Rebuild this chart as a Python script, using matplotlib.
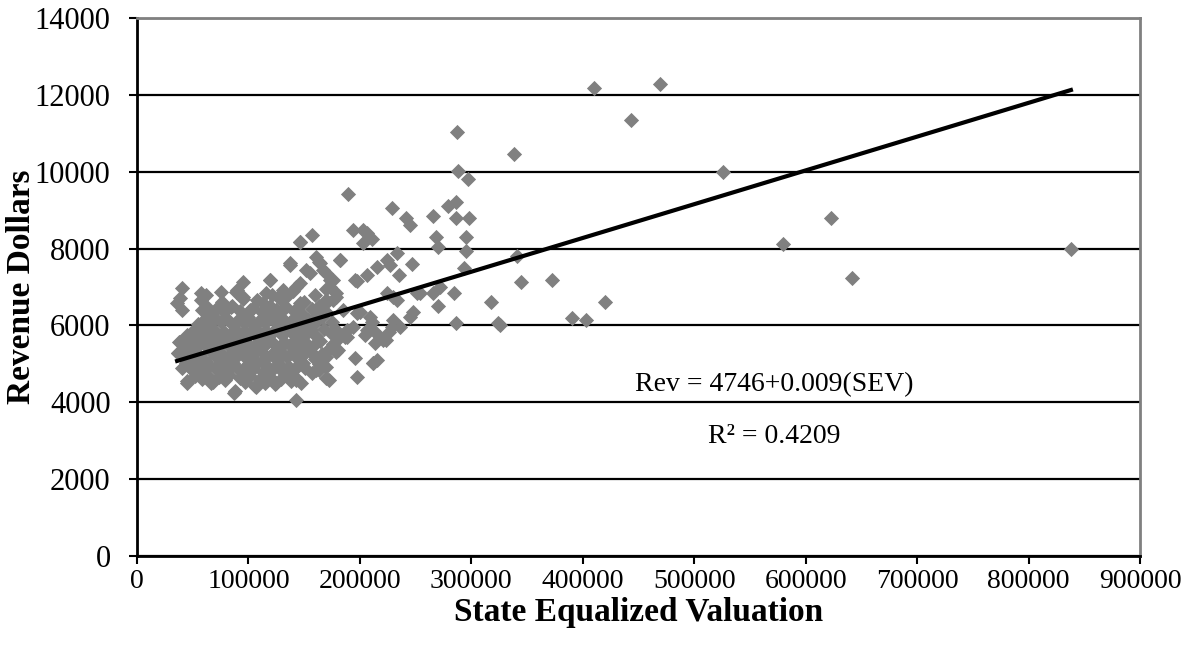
import numpy as np
import matplotlib.pyplot as plt

plt.rcParams['font.family'] = ['Liberation Serif', 'DejaVu Serif']

# --- data (SEV in thousands, revenue in dollars) ---
# dense cluster of districts
cluster_sev = [
    45, 52, 58, 63, 68, 74, 79, 83, 88, 92, 97, 101, 106, 110, 115, 119, 124, 129, 134, 138, 143, 147,
    40, 44, 49, 55, 60, 64, 70, 75, 81, 86, 90, 95, 99, 104, 108, 113, 117, 122, 127, 131, 136, 141, 146, 151, 157, 163,
    37, 42, 47, 51, 56, 61, 66, 71, 76, 80, 85, 89, 94, 98, 103, 107, 112, 116, 121, 126, 130, 135, 140, 144, 149, 155, 160, 166, 170,
    38, 43, 48, 53, 57, 62, 67, 72, 77, 82, 87, 91, 96, 100, 105, 109, 114, 118, 123, 128, 132, 137, 142, 146, 152, 158, 164, 172, 176,
    45, 50, 54, 59, 63, 69, 73, 78, 84, 88, 93, 97, 102, 106, 111, 116, 120, 125, 130, 134, 139, 145, 150, 156, 161, 168, 174, 181,
    55, 60, 65, 70, 75, 81, 86, 91, 96, 100, 105, 110, 115, 120, 126, 131, 137, 142, 148, 153, 160, 166, 175,
    58, 64, 72, 78, 85, 92, 99, 104, 112, 119, 127, 134, 141, 148, 157, 163, 170,
    57, 62, 76, 89, 95, 108, 121, 128, 140, 150, 160, 170, 176,
]
cluster_rev = [
    4550, 4680, 4600, 4720, 4520, 4650, 4580, 4700, 4300, 4620, 4540, 4690, 4430, 4600, 4510, 4660, 4480, 4600, 4720, 4560, 4640, 4500,
    4900, 5020, 4850, 4950, 4810, 5000, 4880, 4960, 4820, 5010, 4900, 4780, 4980, 4870, 5030, 4800, 4940, 4860, 5000, 4790, 4920, 4850, 5010, 4890, 4760, 4990,
    5270, 5150, 5300, 5120, 5230, 5080, 5310, 5170, 5250, 5100, 5290, 5180, 5320, 5140, 5240, 5080, 5300, 5160, 5250, 5110, 5280, 5190, 5320, 5150, 5240, 5330, 5120, 5260, 5180,
    5580, 5450, 5520, 5400, 5600, 5470, 5550, 5420, 5620, 5480, 5560, 5410, 5600, 5500, 5430, 5580, 5460, 5620, 5510, 5400, 5570, 5480, 5610, 5420, 5530, 5470, 5600, 5380, 5520,
    5750, 5850, 5700, 5900, 5780, 5880, 5720, 5830, 5760, 5920, 5700, 5860, 5790, 5940, 5720, 5850, 5780, 5900, 5740, 5860, 5800, 5930, 5760, 5880, 5720, 5900, 5800, 5750,
    6050, 6150, 6000, 6200, 6080, 6180, 6020, 6130, 6060, 6210, 6000, 6140, 6070, 6230, 6030, 6160, 6090, 6200, 6010, 6150, 6060, 6220, 6100,
    6400, 6320, 6460, 6350, 6500, 6380, 6300, 6450, 6360, 6500, 6330, 6470, 6380, 6300, 6420, 6500, 6350,
    6650, 6780, 6600, 6880, 6700, 6650, 6800, 6700, 6900, 6620, 6780, 6950, 6650,
]

# cluster edge points
edge_sev = [40, 36, 40, 39, 57, 75, 95, 90, 119, 137, 146, 157, 163, 182, 131, 143, 152, 167, 173,
            179, 170, 179, 187, 180, 170, 172, 143, 87, 45, 39, 37, 107, 125, 143, 66, 149, 161, 163,
            157, 149, 125, 113, 101, 84, 78, 63, 116, 95]
edge_rev = [6965, 6575, 6401, 6705, 6835, 6878, 7138, 6920, 7182, 7616, 8179, 8353, 7659, 7702, 6878, 7008, 7442, 7442, 7182,
            6835, 6661, 5881, 5707, 5360, 4927, 4580, 4059, 4233, 4493, 5577, 5274, 4406, 4493, 4580, 4493, 5014, 5187, 4840,
            6141, 5707, 6401, 6575, 6401, 6488, 6401, 6488, 6835, 6748]

# mid-range districts
mid_sev = [287, 288, 297, 189, 229, 241, 245, 266, 279, 286, 286, 298, 203, 206, 194, 211, 203, 146, 268, 270,
           295, 295, 182, 137, 233, 224, 227, 247, 215, 206, 235, 197, 293, 318, 266, 270, 284, 248, 286, 324,
           254, 230, 224, 211, 206, 229, 226, 179, 188, 196, 212, 215, 197, 170, 221, 205, 194, 182, 179, 214,
           223, 230, 212, 161, 196, 170, 176, 155, 146, 131, 119, 179, 170, 161, 146, 134, 125, 164, 161, 173,
           185, 188, 200, 197, 209, 212, 218, 236, 245, 233, 251, 272]
mid_rev = [11041, 10026, 9810, 9420, 9047, 8795, 8613, 8846, 9107, 9220, 8787, 8787, 8480, 8405, 8480, 8240, 8140, 8163, 8292, 8050,
           8292, 7945, 7702, 7572, 7892, 7702, 7572, 7590, 7528, 7312, 7312, 7168, 7485, 6618, 6835, 6505, 6835, 6357, 6055, 6055,
           6835, 6748, 6835, 6096, 5881, 5967, 5837, 5360, 5707, 5144, 5014, 5100, 4666, 4624, 5621, 5751, 5967, 5707, 5316, 5535,
           5621, 6141, 5014, 4840, 7182, 7356, 7182, 7356, 7096, 6922, 7182, 6748, 6575, 6401, 6575, 6748, 6401, 7616, 7790, 7009,
           6401, 5881, 6357, 6315, 6228, 5881, 5707, 5967, 6228, 6661, 6835, 7009]

# high-valuation districts
high_sev = [838, 642, 580, 623, 526, 469, 410, 443, 338, 341, 345, 372, 420, 390, 403, 326]
high_rev = [8000, 7226, 8115, 8787, 9985, 12282, 12170, 11337, 10452, 7806, 7122, 7182, 6601, 6185, 6141, 6011]

# linear trend as drawn (thousands of SEV)
trend_intercept = 4760
trend_slope = 8.79

sev = np.array(cluster_sev + edge_sev + mid_sev + high_sev) * 1000
rev = np.array(cluster_rev + edge_rev + mid_rev + high_rev)

fig, ax = plt.subplots(figsize=(11.9, 6.58), dpi=100)
fig.subplots_adjust(left=137/1190, right=1140/1190, bottom=102/658, top=640/658)

ax.set_axisbelow(True)
ax.yaxis.grid(True, color='black', linewidth=1.6)
ax.scatter(sev, rev, marker='D', s=60, color='#808080', linewidths=0, zorder=3)

x_line = np.array([sev.min(), sev.max()])
ax.plot(x_line, trend_intercept + trend_slope * x_line / 1000, color='black', linewidth=3, zorder=4)

ax.set_xlim(0, 900000)
ax.set_ylim(0, 14000)
ax.set_xticks(np.arange(0, 900001, 100000))
ax.set_yticks(np.arange(0, 14001, 2000))
ax.tick_params(axis='both', direction='out', length=6, width=1.5, colors='black')
ax.tick_params(axis='x', labelsize=20)
ax.tick_params(axis='y', labelsize=22, pad=13)

for side in ['top', 'right']:
    ax.spines[side].set_color('#808080')
    ax.spines[side].set_linewidth(2)
for side in ['left', 'bottom']:
    ax.spines[side].set_linewidth(2)

ax.set_xlabel('State Equalized Valuation', fontsize=24, fontweight='bold', labelpad=2)
ax.set_ylabel('Revenue Dollars', fontsize=24, fontweight='bold')
ax.yaxis.set_label_coords(-0.100, 0.5)

ax.text(572000, 4450, 'Rev = 4746+0.009(SEV)', fontsize=20, ha='center', va='center')
ax.text(572000, 3100, 'R² = 0.4209', fontsize=20, ha='center', va='center')

plt.savefig('out.png', dpi=100)
